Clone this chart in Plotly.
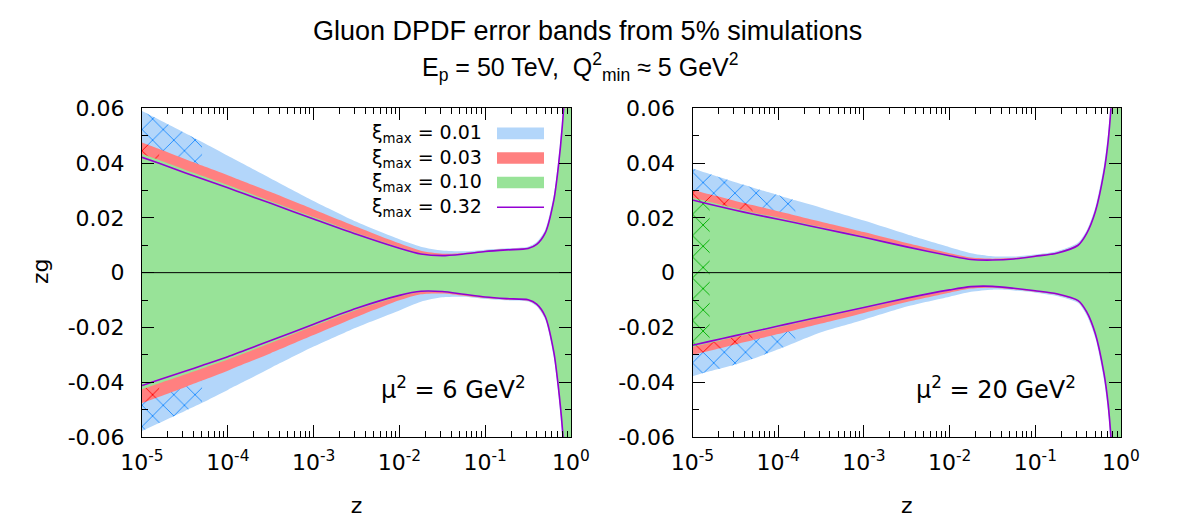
import plotly.graph_objects as go

# ---------------- data ----------------
LOG_Z = [-5, -4.8, -4.5, -4.3, -4, -3.8, -3.5, -3, -2.5, -2, -1.75, -1.5, -1.25,
         -1, -0.75, -0.5, -0.4, -0.3, -0.2, -0.15, -0.1, -0.05, 0]

# Panel 1: mu^2 = 6 GeV^2
P1_BLUE_HI = [0.0590, 0.0558, 0.0510, 0.0477, 0.0427, 0.0394, 0.0344, 0.0262, 0.0186, 0.0122, 0.0095, 0.0081, 0.0078,
              0.0084, 0.0089, 0.0095, 0.0112, 0.0157, 0.0285, 0.0405, 0.0575, 0.0850, 0.1400]
P1_BLUE_LO = [-0.0578, -0.0549, -0.0505, -0.0475, -0.0428, -0.0396, -0.0348, -0.0270, -0.0200, -0.0138, -0.0106, -0.0090, -0.0088,
              -0.0096, -0.0101, -0.0105, -0.0123, -0.0172, -0.0310, -0.0435, -0.0610, -0.0880, -0.1450]
P1_RED_HI = [0.0475, 0.0451, 0.0415, 0.0391, 0.0356, 0.0331, 0.0294, 0.0231, 0.0168, 0.0107, 0.0080, 0.0069, 0.0072,
             0.0080, 0.0086, 0.0091, 0.0106, 0.0149, 0.0271, 0.0387, 0.0548, 0.0810, 0.1310]
P1_RED_LO = [-0.0476, -0.0453, -0.0418, -0.0394, -0.0358, -0.0332, -0.0294, -0.0228, -0.0162, -0.0101, -0.0079, -0.0076, -0.0084,
             -0.0093, -0.0099, -0.0103, -0.0119, -0.0165, -0.0297, -0.0418, -0.0580, -0.0840, -0.1360]
P1_GREEN_HI = [0.0433, 0.0411, 0.0376, 0.0354, 0.0320, 0.0296, 0.0261, 0.0203, 0.0145, 0.0093, 0.0071, 0.0064, 0.0070,
               0.0079, 0.0085, 0.0090, 0.0105, 0.0147, 0.0268, 0.0383, 0.0543, 0.0803, 0.1303]
P1_GREEN_LO = [-0.0426, -0.0404, -0.0372, -0.0350, -0.0317, -0.0293, -0.0257, -0.0195, -0.0136, -0.0087, -0.0071, -0.0071, -0.0081,
               -0.0091, -0.0097, -0.0101, -0.0117, -0.0162, -0.0293, -0.0413, -0.0573, -0.0833, -0.1353]
P1_PURPLE_HI = [0.0421, 0.0399, 0.0365, 0.0343, 0.0310, 0.0287, 0.0253, 0.0196, 0.0140, 0.0089, 0.0068, 0.0062, 0.0068,
                0.0077, 0.0083, 0.0088, 0.0103, 0.0145, 0.0265, 0.0380, 0.0540, 0.0800, 0.1300]
P1_PURPLE_LO = [-0.0412, -0.0391, -0.0360, -0.0339, -0.0307, -0.0283, -0.0248, -0.0188, -0.0130, -0.0083, -0.0068, -0.0069, -0.0079,
                -0.0089, -0.0095, -0.0099, -0.0115, -0.0160, -0.0290, -0.0410, -0.0570, -0.0830, -0.1350]

# Panel 2: mu^2 = 20 GeV^2
P2_BLUE_HI = [0.0380, 0.0360, 0.0330, 0.0311, 0.0283, 0.0264, 0.0237, 0.0190, 0.0140, 0.0093, 0.0071, 0.0060, 0.0059,
              0.0066, 0.0078, 0.0110, 0.0155, 0.0238, 0.0390, 0.0510, 0.0720, 0.1050, 0.1700]
P2_BLUE_LO = [-0.0378, -0.0360, -0.0335, -0.0315, -0.0280, -0.0255, -0.0218, -0.0172, -0.0124, -0.0088, -0.0070, -0.0062, -0.0065,
              -0.0073, -0.0085, -0.0111, -0.0156, -0.0238, -0.0390, -0.0510, -0.0720, -0.1050, -0.1700]
P2_RED_HI = [0.0303, 0.0286, 0.0262, 0.0247, 0.0224, 0.0209, 0.0186, 0.0148, 0.0108, 0.0071, 0.0055, 0.0051, 0.0054,
             0.0063, 0.0074, 0.0104, 0.0147, 0.0227, 0.0371, 0.0487, 0.0688, 0.1010, 0.1610]
P2_RED_LO = [-0.0300, -0.0285, -0.0262, -0.0247, -0.0224, -0.0209, -0.0186, -0.0147, -0.0107, -0.0073, -0.0058, -0.0055, -0.0061,
             -0.0070, -0.0081, -0.0106, -0.0148, -0.0228, -0.0372, -0.0488, -0.0690, -0.1010, -0.1610]
P2_GREEN_HI = [0.0273, 0.0258, 0.0235, 0.0220, 0.0201, 0.0187, 0.0167, 0.0133, 0.0097, 0.0064, 0.0050, 0.0048, 0.0052,
               0.0062, 0.0073, 0.0102, 0.0145, 0.0224, 0.0367, 0.0482, 0.0682, 0.1002, 0.1602]
P2_GREEN_LO = [-0.0271, -0.0257, -0.0235, -0.0221, -0.0200, -0.0186, -0.0165, -0.0131, -0.0096, -0.0065, -0.0053, -0.0052, -0.0059,
               -0.0068, -0.0079, -0.0104, -0.0145, -0.0224, -0.0367, -0.0482, -0.0682, -0.1002, -0.1602]
P2_PURPLE_HI = [0.0265, 0.0250, 0.0228, 0.0214, 0.0195, 0.0182, 0.0162, 0.0129, 0.0094, 0.0062, 0.0048, 0.0046, 0.0050,
                0.0060, 0.0071, 0.0100, 0.0143, 0.0222, 0.0365, 0.0480, 0.0680, 0.1000, 0.1600]
P2_PURPLE_LO = [-0.0265, -0.0251, -0.0230, -0.0216, -0.0195, -0.0181, -0.0161, -0.0127, -0.0093, -0.0063, -0.0051, -0.0050, -0.0057,
                -0.0066, -0.0077, -0.0102, -0.0143, -0.0222, -0.0365, -0.0480, -0.0680, -0.1000, -0.1600]

# hatched (extrapolated) region: band hatched for log10(z) <= value
P1_HATCH_END = {"blue": -4.3, "red": -4.8, "green": None}
P2_HATCH_END = {"blue": -3.8, "red": -4.3, "green": -4.8}

LEGEND_LABELS = ["0.01", "0.03", "0.10", "0.32"]
PANEL_LABELS = ["μ<sup>2</sup> = 6 GeV<sup>2</sup>", "μ<sup>2</sup> = 20 GeV<sup>2</sup>"]
TITLE_LINE1 = "Gluon DPDF error bands from 5% simulations"
TITLE_LINE2 = "E<sub>p</sub> = 50 TeV,  Q<sup>2</sup><sub>min</sub> ≈ 5 GeV<sup>2</sup>"
X_TITLE = "z"
Y_TITLE = "zg"
X_TICK_EXP = [-5, -4, -3, -2, -1, 0]
Y_TICKS = [-0.06, -0.04, -0.02, 0, 0.02, 0.04, 0.06]
Y_TICK_TEXT = ["-0.06", "-0.04", "-0.02", "0", "0.02", "0.04", "0.06"]

# ---------------- style ----------------
FILL = {"blue": "#b3d6fa", "red": "#ff8080", "green": "#98e398"}
HATCH = {"blue": "#1e8cff", "red": "#ff0000", "green": "#00b000"}
PURPLE = "#9400d3"
TICK_FONT = dict(family="DejaVu Sans", size=22, color="black")
TITLE_FONT = "Liberation Sans, Arial"

W, H = 1180, 532
Z = [10.0 ** v for v in LOG_Z]

fig = go.Figure()


def add_band(xa, ya, lo, hi, key, hatch_end):
    common = dict(xaxis=xa, yaxis=ya, mode="lines", showlegend=False, hoverinfo="skip")
    ln = dict(width=0, shape="spline", smoothing=0.7)
    fig.add_trace(go.Scatter(x=Z, y=lo, line=ln, **common))
    fig.add_trace(go.Scatter(x=Z, y=hi, fill="tonexty", fillcolor=FILL[key], line=ln, **common))
    if hatch_end is not None:
        n = LOG_Z.index(hatch_end) + 1
        fig.add_trace(go.Scatter(x=Z[:n], y=lo[:n], line=ln, **common))
        fig.add_trace(go.Scatter(x=Z[:n], y=hi[:n], fill="tonexty", fillcolor="rgba(0,0,0,0)",
                                 fillpattern=dict(shape="x", fgcolor=HATCH[key], bgcolor="rgba(0,0,0,0)",
                                                  fgopacity=1, size=15, solidity=0.12),
                                 line=ln, **common))


panels = [
    ("x", "y", {"blue": (P1_BLUE_LO, P1_BLUE_HI), "red": (P1_RED_LO, P1_RED_HI),
                "green": (P1_GREEN_LO, P1_GREEN_HI)}, (P1_PURPLE_LO, P1_PURPLE_HI), P1_HATCH_END),
    ("x2", "y2", {"blue": (P2_BLUE_LO, P2_BLUE_HI), "red": (P2_RED_LO, P2_RED_HI),
                  "green": (P2_GREEN_LO, P2_GREEN_HI)}, (P2_PURPLE_LO, P2_PURPLE_HI), P2_HATCH_END),
]

for xa, ya, bands, purple, hatch in panels:
    for key in ["blue", "red", "green"]:
        lo, hi = bands[key]
        add_band(xa, ya, lo, hi, key, hatch[key])
    for arr in purple:
        fig.add_trace(go.Scatter(x=Z, y=arr, xaxis=xa, yaxis=ya, mode="lines",
                                 line=dict(color=PURPLE, width=1.6, shape="spline", smoothing=0.7),
                                 showlegend=False, hoverinfo="skip"))

# ---------------- axes ----------------
x_tickvals = [10.0 ** e for e in X_TICK_EXP]
x_ticktext = ["10<sup>%d</sup>" % e for e in X_TICK_EXP]
x_minor = [m * 10.0 ** e for e in X_TICK_EXP[:-1] for m in range(2, 10)]
y_minor = [-0.05, -0.03, -0.01, 0.01, 0.03, 0.05]

ydom = [1 - 437 / H, 1 - 108.3 / H]
xdoms = [[142 / W, 571 / W], [692.5 / W, 1121 / W]]

axis_common = dict(showline=True, linecolor="black", linewidth=1, mirror="ticks", ticks="inside",
                   ticklen=12, tickwidth=1, tickcolor="black", showgrid=False, zeroline=False,
                   tickfont=TICK_FONT, automargin=False)

for i, (xa, ya) in enumerate([("xaxis", "yaxis"), ("xaxis2", "yaxis2")]):
    sfx = "" if i == 0 else "2"
    fig.update_layout(**{
        xa: dict(axis_common, type="log", range=[-5, 0], domain=xdoms[i], anchor="y" + sfx,
                 tickmode="array", tickvals=x_tickvals, ticktext=x_ticktext, ticklabelstandoff=6,
                 minor=dict(tickmode="array", tickvals=x_minor, ticks="inside", ticklen=6,
                            tickcolor="black", showgrid=False),
                 title=dict(text=X_TITLE, font=dict(family="DejaVu Sans", size=22, color="black"), standoff=23)),
        ya: dict(axis_common, range=[-0.06, 0.06], domain=ydom, anchor="x" + sfx,
                 tickmode="array", tickvals=Y_TICKS, ticktext=Y_TICK_TEXT, ticklabelstandoff=12,
                 minor=dict(tickmode="array", tickvals=y_minor, ticks="inside", ticklen=6,
                            tickcolor="black", showgrid=False)),
    })

shapes = []
annotations = []
# zero line on top of the bands
for i in range(2):
    sfx = "" if i == 0 else "2"
    shapes.append(dict(type="line", xref="x%s domain" % sfx, yref="y" + sfx, x0=0, x1=1, y0=0, y1=0,
                       line=dict(color="black", width=1), layer="above"))

# y axis title of the left panel
annotations.append(dict(text=Y_TITLE, xref="paper", yref="paper", x=40 / W, y=1 - 271 / H,
                        xanchor="center", yanchor="middle", textangle=-90, showarrow=False,
                        font=dict(family="DejaVu Sans", size=22, color="black")))

# legend (gnuplot style: text then sample)
leg_rows_y = [133.4, 158.0, 182.5, 207.3]
sw_x0, sw_x1 = 497 / W, 544 / W
for key, lab, yc in zip(["blue", "red", "green", "purple"], LEGEND_LABELS, leg_rows_y):
    yp = 1 - yc / H
    annotations.append(dict(text="ξ<sub>max</sub> = %s" % lab, xref="paper", yref="paper", x=484 / W, y=yp,
                            xanchor="right", yanchor="middle", showarrow=False,
                            font=dict(family="DejaVu Sans", size=19, color="black")))
    if key == "purple":
        shapes.append(dict(type="line", xref="paper", yref="paper", x0=sw_x0, x1=sw_x1, y0=yp, y1=yp,
                           line=dict(color=PURPLE, width=1.6), layer="above"))
    else:
        shapes.append(dict(type="rect", xref="paper", yref="paper", x0=sw_x0, x1=sw_x1,
                           y0=yp - 5.8 / H, y1=yp + 5.8 / H, fillcolor=FILL[key], line=dict(width=0),
                           layer="above"))

for lab, xr in zip(PANEL_LABELS, [528, 1078]):
    annotations.append(dict(text=lab, xref="paper", yref="paper", x=xr / W, y=1 - 388 / H,
                            xanchor="right", yanchor="middle", showarrow=False,
                            font=dict(family="DejaVu Sans", size=24, color="black")))

# two-line title
annotations.append(dict(text=TITLE_LINE1, xref="paper", yref="paper", x=587 / W, y=1 - 31 / H,
                        xanchor="center", yanchor="middle", showarrow=False,
                        font=dict(family=TITLE_FONT, size=27, color="black")))
annotations.append(dict(text=TITLE_LINE2, xref="paper", yref="paper", x=580 / W, y=1 - 67 / H,
                        xanchor="center", yanchor="middle", showarrow=False,
                        font=dict(family=TITLE_FONT, size=25, color="black")))

fig.update_layout(
    width=W, height=H, margin=dict(l=0, r=0, t=0, b=0),
    paper_bgcolor="white", plot_bgcolor="white", showlegend=False,
    shapes=shapes, annotations=annotations,
)

fig.write_html("out.html")
